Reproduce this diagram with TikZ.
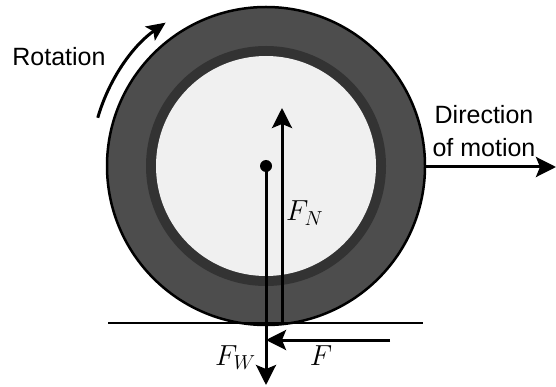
\RequirePackage{fix-cm}
\documentclass[tikz,border=0pt]{standalone}
\usepackage{fontspec}
\setmainfont{Liberation Sans}
\usetikzlibrary{arrows.meta,calc}
\definecolor{tiregray}{HTML}{4D4D4D}
\definecolor{bandgray}{HTML}{333333}
\definecolor{hubgray}{HTML}{F0F0F0}
\tikzset{
  force/.style={line width=3pt,-{Stealth[length=20pt,width=20pt,inset=4pt]}},
  plainline/.style={line width=2.4pt},
  sanslabel/.style={font=\fontsize{25}{33}\selectfont,align=center,inner sep=0pt},
  mathlabel/.style={font=\fontsize{29}{32}\selectfont,inner sep=0pt}
}
\begin{document}
\begin{tikzpicture}[x=1pt,y=-1pt]
\useasboundingbox (0,0) rectangle (556,387);
\coordinate (c) at (266,166);
% tire
\draw[line width=2.5pt,fill=tiregray] (c) circle (159pt);
\fill[bandgray] (c) circle (120pt);
\fill[hubgray] (c) circle (110pt);
% ground
\coordinate (g1) at (108,323);
\coordinate (g2) at (423,323);
\draw[plainline] (g1) -- (g2);
% centre dot
\fill (c) circle (6pt);
% weight
\coordinate (fwend) at (266,385);
\draw[force] (c) -- (fwend);
% normal force
\coordinate (fnstart) at (282,323);
\coordinate (fnend) at (282,108);
\draw[force] (fnstart) -- (fnend);
% friction
\coordinate (fstart) at (390,340);
\coordinate (fend) at (266,340);
\draw[force] (fstart) -- (fend);
% direction of motion
\coordinate (dstart) at (425,167);
\coordinate (dend) at (556,167);
\draw[force] (dstart) -- (dend);
% rotation arrow
\coordinate (rstart) at ($(c)+(164:175pt)$);
\draw[line width=3pt,-{Stealth[length=19pt,width=17pt,inset=4pt]}] (rstart) arc[start angle=164,end angle=125,radius=175pt];
% labels
\node[sanslabel] (rot) at (59,57) {Rotation};
\node[sanslabel] (dir) at (484,131) {Direction\\of motion};
\node[mathlabel,anchor=base west] (fn) at (286,221) {$F_N$};
\node[mathlabel,anchor=base west] (fw) at (215,365) {$F_W$};
\node[mathlabel,anchor=base] (f) at (321,365) {$F$};
\end{tikzpicture}
\end{document}
